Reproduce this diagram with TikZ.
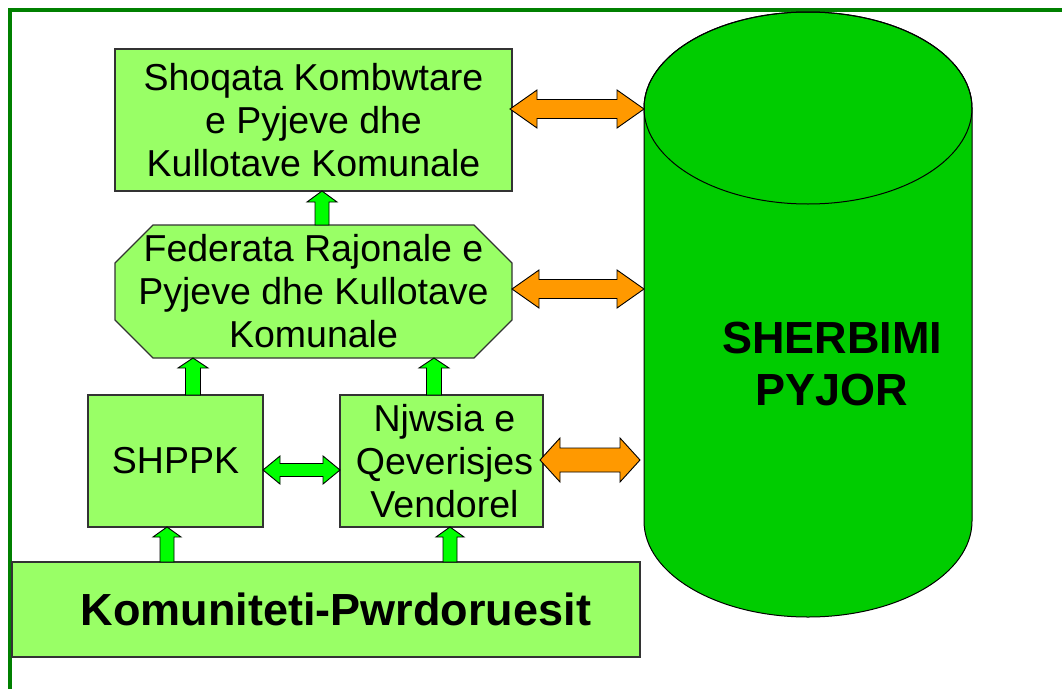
\documentclass[tikz,border=0pt]{standalone}
\usepackage{fontspec}
\setmainfont{Liberation Sans}
\usetikzlibrary{calc}
\definecolor{boxgreen}{HTML}{99FF66}
\definecolor{cylgreen}{HTML}{00CC00}
\definecolor{arrgreen}{HTML}{00FF00}
\definecolor{arrorange}{HTML}{FF9900}
\definecolor{framegreen}{HTML}{008000}
\newcommand\dblarr[6]{%
 \filldraw[#1] let \p1=#2, \p2=#3 in (\x1,\y1) -- (\x1+#4,\y1+#5) -- (\x1+#4,\y1+#6) -- (\x2-#4,\y1+#6) -- (\x2-#4,\y1+#5) -- (\x2,\y1) -- (\x2-#4,\y1-#5) -- (\x2-#4,\y1-#6) -- (\x1+#4,\y1-#6) -- (\x1+#4,\y1-#5) -- cycle;}
\newcommand\uparr[6]{%
 \filldraw[#1] let \p1=#2, \p2=#3 in (\x1-#6,\y1) -- (\x1-#6,\y2-#4) -- (\x1-#5,\y2-#4) -- (\x1,\y2) -- (\x1+#5,\y2-#4) -- (\x1+#6,\y2-#4) -- (\x1+#6,\y1) -- cycle;}
\begin{document}
\begin{tikzpicture}[x=1pt,y=-1pt,
 box/.style={draw=black!80, line width=1.2pt, fill=boxgreen, inner sep=0pt, outer sep=0pt, align=center, font=\fontsize{37.5}{43}\selectfont},
 octtext/.style={inner sep=0pt, outer sep=0pt, align=center, font=\fontsize{37.5}{43}\selectfont},
 octline/.style={draw=black!80, line width=1.2pt, fill=boxgreen, line join=miter},
 orangearr/.style={fill=arrorange, draw=black, line width=0.9pt, line join=miter},
 greenarr/.style={fill=arrgreen, draw=black, line width=0.9pt, line join=miter},
 cyl/.style={fill=cylgreen, draw=black, line width=1pt},
 frame/.style={draw=framegreen, line width=3.5pt}]
\useasboundingbox (0,0) rectangle (1062,688);
\clip (0,0) rectangle (1062,688);
\fill[white] (0,0) rectangle (1062,688);
\draw[frame] (10,10) rectangle (1090,720);
% cylinder
\coordinate (cylL) at (644,0);
\filldraw[cyl] (644,108) -- (644,521) arc[start angle=180, end angle=360, x radius=164pt, y radius=96pt] -- (972,108) arc[start angle=0, end angle=180, x radius=164pt, y radius=96pt] -- cycle;
\draw[line width=1pt] (808,108) ellipse [x radius=164pt, y radius=96pt];
\node[font=\bfseries\fontsize{45}{52}\selectfont, align=center, inner sep=0pt] (sherb) at (832,364) {SHERBIMI\\PYJOR};
% boxes
\node[box, minimum width=397pt, minimum height=142pt] (assoc) at (313.5,120) {Shoqata Kombwtare\\e Pyjeve dhe\\Kullotave Komunale};
\filldraw[octline] (153,225) -- (474,225) -- (512,263) -- (512,320) -- (474,358) -- (153,358) -- (115,320) -- (115,263) -- cycle;
\node[octtext, minimum width=397pt, minimum height=133pt] (fed) at (313.5,291.5) {Federata Rajonale e\\Pyjeve dhe Kullotave\\Komunale};
\node[box, minimum width=175pt, minimum height=132pt] (shppk) at (175.5,461) {SHPPK};
\node[box, minimum width=203pt, minimum height=132pt] (njw) at (441.5,461) {\hspace*{6pt}Njwsia e\\\hspace*{6pt}Qeverisjes\\\hspace*{6pt}Vendorel};
\node[box, minimum width=628pt, minimum height=95pt, font=\bfseries\fontsize{45}{52}\selectfont] (kom) at (326,609.5) {\hspace*{20pt}Komuniteti-Pwrdoruesit};
% up arrows
\uparr{greenarr}{($(fed.north)+(8.5,0)$)}{(assoc.south)}{11pt}{15pt}{7pt}
\uparr{greenarr}{($(shppk.north)+(17.5,0)$)}{(fed.south)}{10pt}{15pt}{7.5pt}
\uparr{greenarr}{($(njw.north)+(-7.5,0)$)}{(fed.south)}{10pt}{15pt}{7.5pt}
\uparr{greenarr}{($(kom.north)+(-159,0)$)}{(shppk.south)}{10pt}{14pt}{7pt}
\uparr{greenarr}{($(kom.north)+(124,0)$)}{(njw.south)}{10pt}{14pt}{7pt}
% horizontal double arrows
\dblarr{greenarr}{($(shppk.east)+(0,9)$)}{(njw.west)}{17pt}{14pt}{6.5pt}
\dblarr{orangearr}{($(assoc.east)+(-2,-11)$)}{(cylL)}{27pt}{19pt}{9.5pt}
\dblarr{orangearr}{($(fed.east)+(0,-2.5)$)}{(cylL)}{27pt}{19pt}{9.5pt}
\dblarr{orangearr}{($(njw.east)+(-3,-1)$)}{($(cylL)+(-4,0)$)}{20pt}{22pt}{12pt}
\end{tikzpicture}
\end{document}
